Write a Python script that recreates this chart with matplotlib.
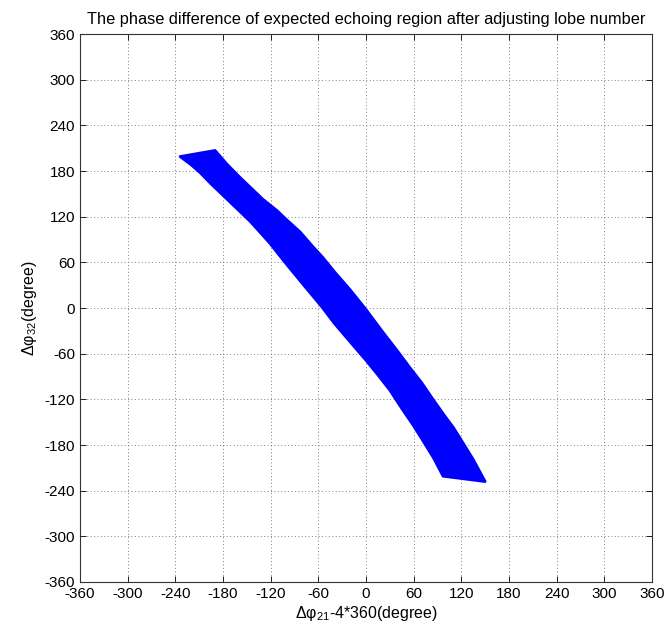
import numpy as np
import matplotlib
matplotlib.use("Agg")
import matplotlib.pyplot as plt

plt.rcParams['font.family'] = ['Liberation Sans', 'DejaVu Sans']
plt.rcParams['mathtext.fontset'] = 'custom'
plt.rcParams['mathtext.rm'] = 'Liberation Sans'
plt.rcParams['mathtext.it'] = 'Liberation Sans'
plt.rcParams['axes.unicode_minus'] = False

# Upper-right boundary of the echoing region (x, y in degrees)
upper_x = [-190, -175, -160, -146, -130, -112, -100, -83, -68, -54, -40, -20, 0,
           20, 40, 55, 70, 85, 100, 110, 122, 135, 150]
upper_y = [207, 189, 173, 159, 143, 128, 116, 100, 82, 66, 48, 24, -2,
           -30, -57, -78, -98, -121, -143, -157, -177, -199, -228]
# Lower-left boundary
lower_x = [-234, -220, -209, -195, -180, -163, -146, -133, -121, -102, -80, -56,
           -40, -22, 1, 15, 30, 45, 60, 72, 85, 97]
lower_y = [199, 188, 178, 163, 148, 131, 114, 99, 85, 60, 32, 2,
           -20, -42, -70, -88, -108, -132, -155, -175, -197, -221]

ticks = [-360, -300, -240, -180, -120, -60, 0, 60, 120, 180, 240, 300, 360]

fig = plt.figure(figsize=(6.68, 6.30), dpi=100)
ax = fig.add_axes([0.1198, 0.0762, 0.8562, 0.8698])

poly_x = upper_x + lower_x[::-1]
poly_y = upper_y + lower_y[::-1]
ax.fill(poly_x, poly_y, color='#0000ff', edgecolor='#0000ff', linewidth=2.0,
        joinstyle='round', zorder=3)

ax.set_xlim(-360, 360)
ax.set_ylim(-360, 360)
ax.set_xticks(ticks)
ax.set_yticks(ticks)
ax.grid(True, linestyle=(0, (1, 2.5)), color='#808080', linewidth=0.7)
ax.tick_params(direction='in', top=True, right=True, length=4, labelsize=11, width=0.6)
for s in ax.spines.values():
    s.set_linewidth(0.8)
    s.set_color('#333333')

ax.set_title('The phase difference of expected echoing region after adjusting lobe number',
             fontsize=11.8, pad=7)
ax.set_xlabel('Δφ$_{21}$-4*360(degree)', fontsize=11.5, labelpad=2)
ax.set_ylabel('Δφ$_{32}$(degree)', fontsize=11.5, labelpad=4)

fig.savefig('out.png', dpi=100)
